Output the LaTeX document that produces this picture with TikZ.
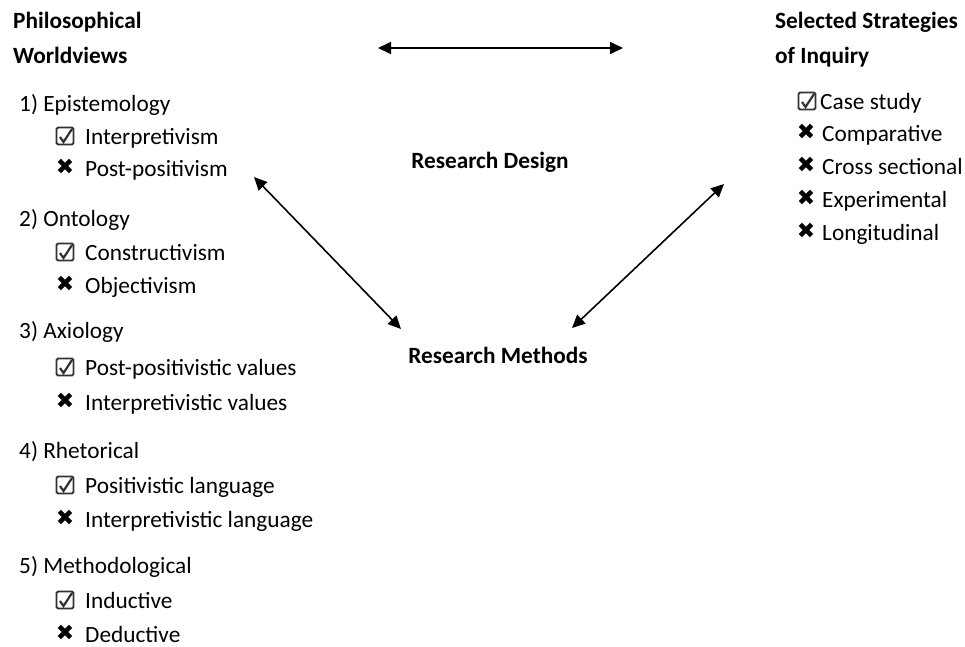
\documentclass[tikz,border=0pt]{standalone}
\usepackage{fontspec}
\setmainfont{Carlito}
\newfontfamily\symfont{DejaVu Sans}
\usepackage{xcolor}
\usetikzlibrary{arrows.meta,positioning}
\definecolor{inkblack}{RGB}{0, 0, 0}
\definecolor{boxgrey}{RGB}{50, 50, 50}
\tikzset{
  headtext/.style={font=\fontsize{23.3}{26}\selectfont\bfseries, anchor=base west, inner sep=0pt, text=inkblack},
  itemtext/.style={font=\fontsize{23.3}{26}\selectfont, anchor=base west, inner sep=0pt, text=inkblack},
  chkbox/.style={draw=boxgrey, line width=1.8pt, rounded corners=1.5pt, minimum size=17pt, inner sep=0pt,
    path picture={\draw[boxgrey, line width=2.2pt, sharp corners]
      ([shift={(-5pt,-1pt)}]path picture bounding box.center) --
      ([shift={(-1.5pt,-6pt)}]path picture bounding box.center) --
      ([shift={(7pt,7pt)}]path picture bounding box.center);}},
  xmark/.style={font=\symfont\fontsize{22}{24}\selectfont, inner sep=0pt, text=inkblack},
  linkarrow/.style={{Triangle[length=13pt,width=12pt]}-{Triangle[length=13pt,width=12pt]}, line width=1.6pt, inkblack}
}

\begin{document}
\begin{tikzpicture}[x=1pt, y=-1pt]
  \useasboundingbox (0,0) rectangle (965,646);
  % ---------- LEFT COLUMN: worldviews ----------
  \node[headtext] (pwA) at (13, 28) {Philosophical};
  \node[headtext] (pwB) at (13, 63) {Worldviews};
  \foreach \y/\t [count=\i] in {111/1) Epistemology, 226/2) Ontology, 338/3) Axiology, 458/4) Rhetorical, 573/5) Methodological} {
    \node[itemtext] (dim\i) at (19, \y) {\t};
  }
  \foreach \y/\k/\t [count=\i] in {144/1/Interpretivism, 176/0/Post-positivism,
      260/1/Constructivism, 293/0/Objectivism,
      375/1/Post-positivistic values, 410/0/Interpretivistic values,
      493/1/Positivistic language, 527/0/Interpretivistic language,
      608/1/Inductive, 642/0/Deductive} {
    \node[itemtext] (opt\i) at (85, \y) {\t};
    \ifnum\k=1
      \node[chkbox] (mk\i) at (65, \y-8) {};
    \else
      \node[xmark] (mk\i) at (65, \y-9) {✖};
    \fi
  }
  % ---------- RIGHT COLUMN: strategies ----------
  \node[headtext] (siA) at (775, 28) {Selected Strategies};
  \node[headtext] (siB) at (775, 63) {of Inquiry};
  \node[chkbox] (smk1) at (807, 101) {};
  \node[itemtext] (str1) at (820, 109) {Case study};
  \foreach \y/\t [count=\i from 2] in {141/Comparative, 174/Cross sectional, 207/Experimental, 240/Longitudinal} {
    \node[xmark] (smk\i) at (806, \y-9) {✖};
    \node[itemtext] (str\i) at (822, \y) {\t};
  }
  % ---------- MIDDLE: design and methods ----------
  \node[headtext, anchor=base] (design) at (490, 168) {Research Design};
  \node[headtext, anchor=base] (methods) at (498, 363) {Research Methods};
  \coordinate (topL) at (378, 48);
  \coordinate (topR) at (623, 48);
  \coordinate (pwEnd) at (254, 177);
  \coordinate (rmL) at (401, 329);
  \coordinate (siEnd) at (724, 184);
  \coordinate (rmR) at (572, 328);
  \draw[linkarrow] (topL) -- (topR);
  \draw[linkarrow] (pwEnd) -- (rmL);
  \draw[linkarrow] (siEnd) -- (rmR);
\end{tikzpicture}
\end{document}
